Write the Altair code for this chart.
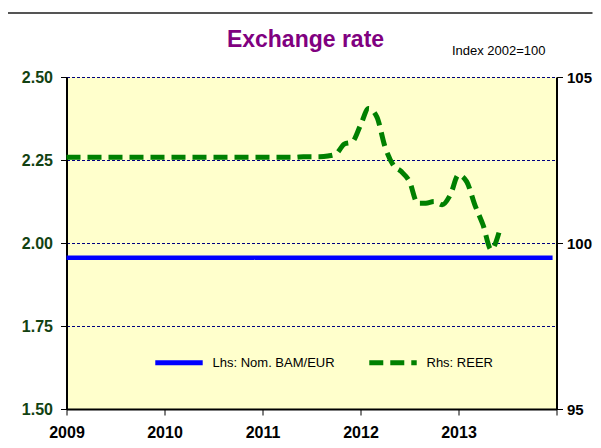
import altair as alt
import pandas as pd

FONT = "Liberation Sans"

# ---- data ----
series_names = ["Lhs: Nom. BAM/EUR", "Rhs: REER"]

# REER, monthly from Jan 2009 (index 2002=100)
reer_values = [
    102.58, 102.58, 102.58, 102.58, 102.58, 102.58, 102.58, 102.58, 102.58, 102.58, 102.58, 102.58,  # 2009
    102.58, 102.58, 102.58, 102.58, 102.58, 102.58, 102.58, 102.58, 102.58, 102.58, 102.58, 102.58,  # 2010
    102.58, 102.58, 102.58, 102.58, 102.58, 102.6, 102.6, 102.6, 102.62, 102.68, 102.98, 103.05,       # 2011
    103.55, 104.05, 103.8, 102.9, 102.35, 102.15, 101.85, 101.2, 101.2, 101.25, 101.15, 101.45,        # 2012
    102.05, 101.85, 101.15, 100.55, 99.8, 100.35,                                                     # 2013
]
reer_years = [2009 + m / 12 for m in range(len(reer_values))]

# Nominal BAM/EUR (fixed peg)
bam_years = [2009.0, 2013.96]
bam_values = [1.9558, 1.9558]

x_ticks = [2009, 2010, 2011, 2012, 2013, 2014]
left_ticks = [1.5, 1.75, 2.0, 2.25, 2.5]
right_ticks = [95, 100, 105]
title_text = ["Exchange rate"]
unit_text = ["Index 2002=100"]

reer_df = pd.DataFrame({"year": reer_years, "value": reer_values, "series": series_names[1]})
bam_df = pd.DataFrame({"year": bam_years, "value": bam_values, "series": series_names[0]})
title_df = pd.DataFrame({"label": title_text})
unit_df = pd.DataFrame({"label": unit_text})

W, H = 490, 332

x_enc = alt.X(
    "year:Q",
    scale=alt.Scale(domain=[2009, 2014], nice=False, zero=False),
    axis=alt.Axis(
        values=x_ticks, format="d", labelExpr="datum.value == 2014 ? '' : datum.label",
        title=None, grid=False, domainColor="black", domainWidth=2,
        tickColor="black", tickSize=6, tickWidth=1,
        labelFont=FONT, labelFontSize=16, labelFontWeight="bold", labelColor="black",
        labelPadding=9, labelFlush=False,
    ),
)

color_scale = alt.Scale(domain=series_names, range=["#0000FF", "#008000"])
dash_scale = alt.Scale(domain=series_names, range=[[1, 0], [14, 7]])
legend = alt.Legend(
    title=None, orient="none", legendX=86, legendY=259, direction="horizontal",
    symbolType="stroke", symbolSize=2250, symbolStrokeWidth=5,
    labelFont=FONT, labelFontSize=13, labelColor="black", labelOffset=7,
    columnPadding=23, padding=0,
)

blue = alt.Chart(bam_df).mark_line(strokeWidth=4.5, strokeCap="butt").encode(
    x=x_enc,
    y=alt.Y(
        "value:Q",
        scale=alt.Scale(domain=[1.5, 2.5], nice=False, zero=False),
        axis=alt.Axis(
            values=left_ticks, format=".2f", title=None, orient="left",
            grid=True, gridColor="#000080", gridDash=[3, 2], gridWidth=1,
            domainColor="black", domainWidth=2, tickColor="black", tickSize=6, tickWidth=1,
            labelPadding=8, labelFont=FONT, labelFontSize=16, labelFontWeight="bold",
            labelColor="#124212",
        ),
    ),
    color=alt.Color("series:N", scale=color_scale, legend=legend),
    strokeDash=alt.StrokeDash("series:N", scale=dash_scale, legend=legend),
)

green = alt.Chart(reer_df).mark_line(strokeWidth=5, strokeCap="butt", interpolate="monotone").encode(
    x=alt.X("year:Q"),
    y=alt.Y(
        "value:Q",
        scale=alt.Scale(domain=[95, 105], nice=False, zero=False),
        axis=alt.Axis(
            values=right_ticks, format="d", title=None, orient="right", grid=False,
            domainColor="black", domainWidth=2, tickColor="black", tickSize=6, tickWidth=1,
            labelPadding=4, labelFont=FONT, labelFontSize=15, labelFontWeight="bold",
            labelColor="black",
        ),
    ),
    color=alt.Color("series:N", scale=color_scale, legend=legend),
    strokeDash=alt.StrokeDash("series:N", scale=dash_scale, legend=legend),
)

title = alt.Chart(title_df).mark_text(
    font=FONT, fontSize=23, fontWeight="bold", color="#800080", align="center", baseline="alphabetic"
).encode(text="label:N", x=alt.value(239), y=alt.value(-30))

unit = alt.Chart(unit_df).mark_text(
    font=FONT, fontSize=13, color="black", align="right", baseline="alphabetic"
).encode(text="label:N", x=alt.value(479), y=alt.value(-22))

border = alt.Chart(unit_df).mark_rule(color="#555555", strokeWidth=2).encode(
    x=alt.value(-60), x2=alt.value(526), y=alt.value(-64)
)

chart = alt.layer(blue, green, title, unit, border).resolve_scale(y="independent").properties(
    width=W, height=H,
    autosize=alt.AutoSizeParams(type="none"),
    padding={"left": 58.5, "top": 69, "right": 36, "bottom": 31},
    background="white",
).configure_view(fill="#FFFFCC", stroke=None)

chart.save("out.html", embed_options={"renderer": "svg", "actions": False})
